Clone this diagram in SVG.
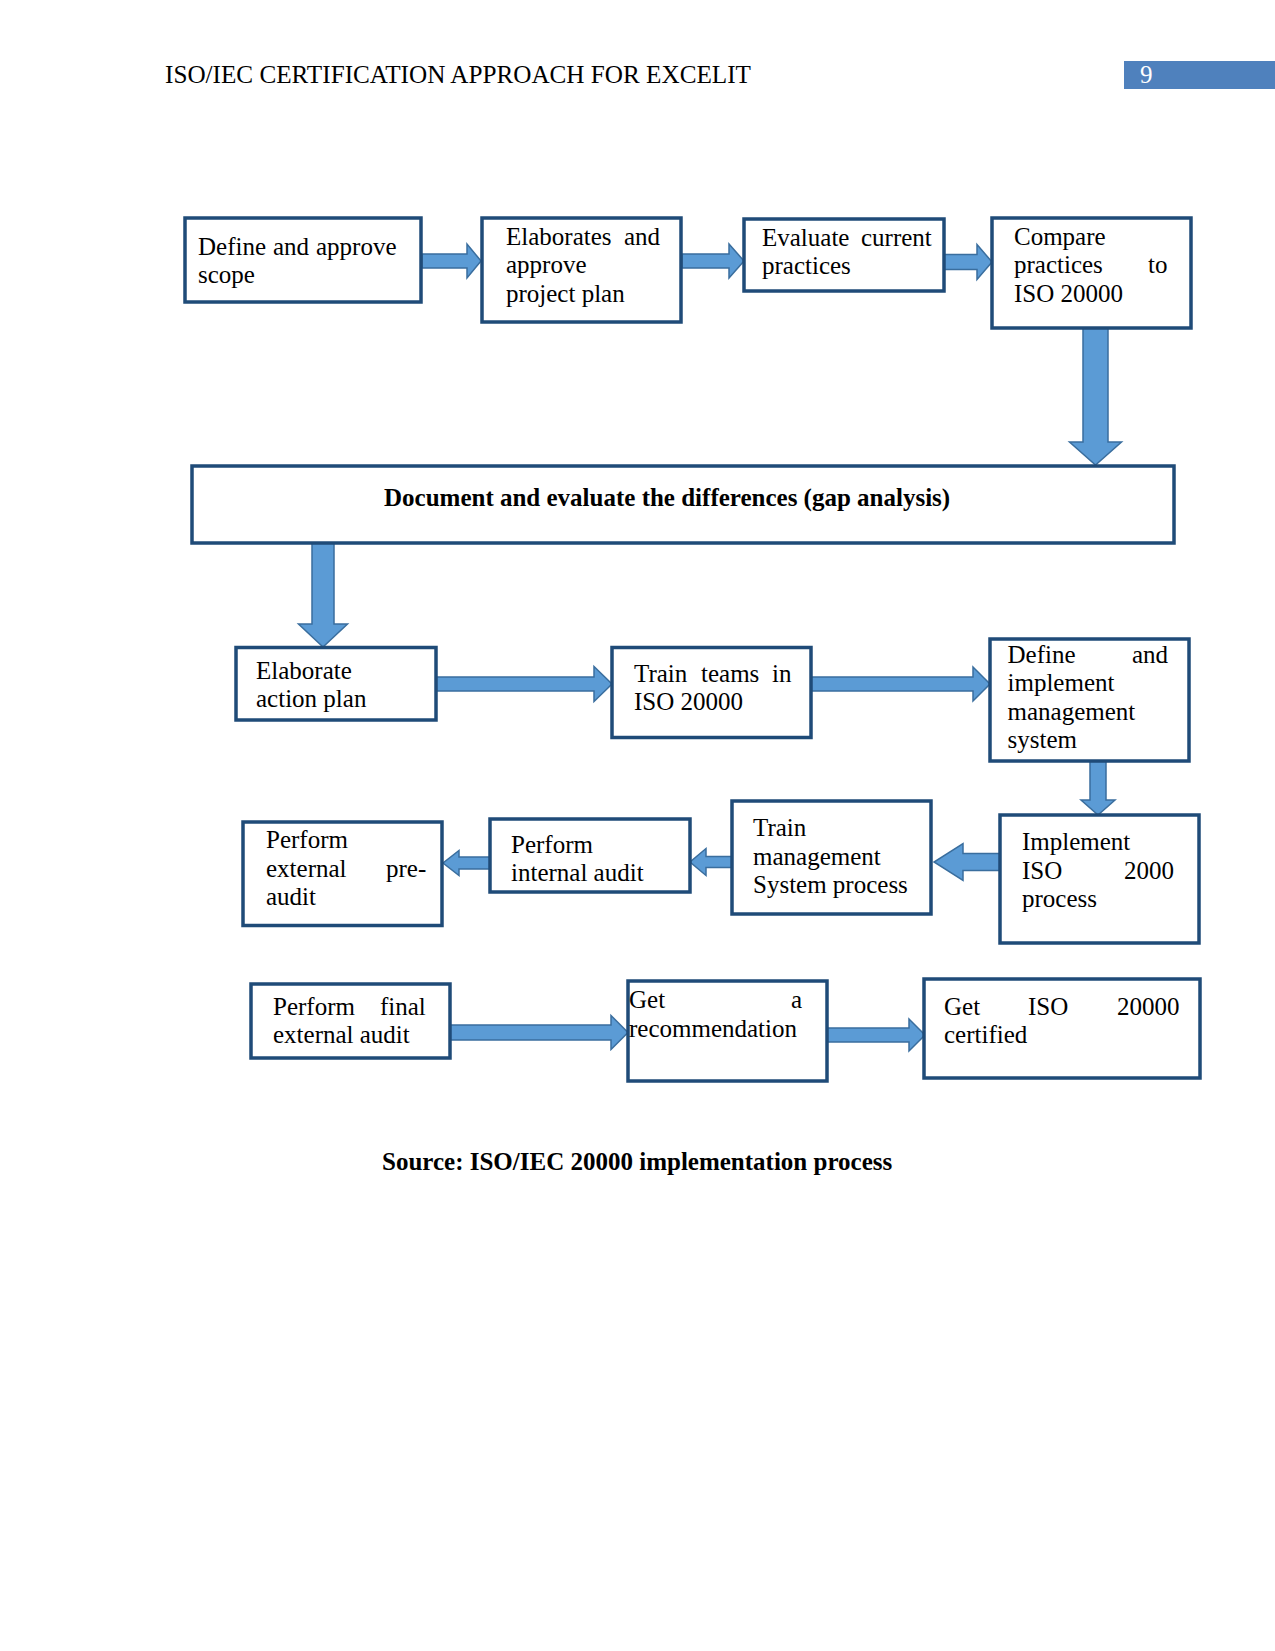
<svg xmlns="http://www.w3.org/2000/svg" width="1275" height="1651" viewBox="0 0 1275 1651">
<style>
text{font-family:"Liberation Serif","Times New Roman",serif;font-size:25px;fill:#000}
.b{font-weight:bold}
.box{fill:#fff;stroke:#1F4B78;stroke-width:3.5}
.arr{fill:#5B9BD5;stroke:#3A6E9E;stroke-width:1.5;stroke-linejoin:miter}
</style>
<rect width="1275" height="1651" fill="#fff"/>
<g id="header">
<text x="165" y="83" textLength="586" lengthAdjust="spacingAndGlyphs">ISO/IEC CERTIFICATION APPROACH FOR EXCELIT</text>
<rect x="1124" y="61" width="151" height="28" fill="#4F81BD"/>
<text x="1140" y="83" style="fill:#fff">9</text>
</g>
<g id="connectors">
<polygon class="arr" points="422,254 467,254 467,244 481,261 467,278 467,268 422,268"/>
<polygon class="arr" points="682,254 729,254 729,244 744,261 729,278 729,268 682,268"/>
<polygon class="arr" points="944,254.5 977,254.5 977,244.5 992,262 977,279.5 977,269.5 944,269.5"/>
<polygon class="arr" points="1083,328 1108,328 1108,442 1121.5,442 1095.5,465 1069.5,442 1083,442"/>
<polygon class="arr" points="312,543 334,543 334,624 347.5,624 323,647 298.5,624 312,624"/>
<polygon class="arr" points="436,677 594,677 594,666.5 612,684 594,701.5 594,691 436,691"/>
<polygon class="arr" points="811,677 973,677 973,667 990,684 973,701 973,691 811,691"/>
<polygon class="arr" points="1090,761 1106,761 1106,800 1115,800 1098,815 1081,800 1090,800"/>
<polygon class="arr" points="1000,853.5 963,853.5 963,843.5 934,862 963,880.5 963,870.5 1000,870.5"/>
<polygon class="arr" points="732,856.5 706,856.5 706,848.5 690,862 706,875.5 706,867.5 732,867.5"/>
<polygon class="arr" points="490,857 459,857 459,850.5 443,863 459,875.5 459,869 490,869"/>
<polygon class="arr" points="450,1025 611,1025 611,1015.5 628,1032.5 611,1049.5 611,1040 450,1040"/>
<polygon class="arr" points="827,1028 909,1028 909,1019 925,1035 909,1051 909,1042 827,1042"/>
</g>
<g id="n1">
<rect class="box" x="185" y="218" width="236" height="84"/>
<text y="255"><tspan x="198">Define</tspan><tspan x="273">and</tspan><tspan x="316">approve</tspan></text>
<text x="198" y="283">scope</text>
</g>
<g id="n2">
<rect class="box" x="482" y="218" width="199" height="104"/>
<text y="245"><tspan x="506">Elaborates</tspan><tspan x="624">and</tspan></text>
<text x="506" y="273">approve</text>
<text x="506" y="302">project plan</text>
</g>
<g id="n3">
<rect class="box" x="744" y="219" width="200" height="72"/>
<text y="246"><tspan x="762">Evaluate</tspan><tspan x="861">current</tspan></text>
<text x="762" y="274">practices</text>
</g>
<g id="n4">
<rect class="box" x="992" y="218" width="199" height="110"/>
<text x="1014" y="245">Compare</text>
<text y="273"><tspan x="1014">practices</tspan><tspan x="1148">to</tspan></text>
<text x="1014" y="302">ISO 20000</text>
</g>
<g id="n5">
<rect class="box" x="192" y="466" width="982" height="77"/>
<text class="b" x="384" y="506">Document and evaluate the differences (gap analysis)</text>
</g>
<g id="n6">
<rect class="box" x="236" y="647.5" width="200" height="72.5"/>
<text x="256" y="679">Elaborate</text>
<text x="256" y="707">action plan</text>
</g>
<g id="n7">
<rect class="box" x="612" y="647.5" width="199" height="90"/>
<text y="682"><tspan x="634">Train</tspan><tspan x="701">teams</tspan><tspan x="772">in</tspan></text>
<text x="634" y="710">ISO 20000</text>
</g>
<g id="n8">
<rect class="box" x="990" y="639" width="199" height="122"/>
<text y="662.5"><tspan x="1007.5">Define</tspan><tspan x="1132">and</tspan></text>
<text x="1007.5" y="691">implement</text>
<text x="1007.5" y="719.5">management</text>
<text x="1007.5" y="748">system</text>
</g>
<g id="n9">
<rect class="box" x="1000" y="815" width="199" height="128"/>
<text x="1022" y="850">Implement</text>
<text y="879"><tspan x="1022">ISO</tspan><tspan x="1124">2000</tspan></text>
<text x="1022" y="907">process</text>
</g>
<g id="n10">
<rect class="box" x="732" y="801" width="199" height="113"/>
<text x="753" y="836">Train</text>
<text x="753" y="864.5">management</text>
<text x="753" y="893">System process</text>
</g>
<g id="n11">
<rect class="box" x="490" y="819" width="200" height="73"/>
<text x="511" y="853">Perform</text>
<text x="511" y="881">internal audit</text>
</g>
<g id="n12">
<rect class="box" x="243" y="822" width="199" height="103.5"/>
<text x="266" y="848">Perform</text>
<text y="877"><tspan x="266">external</tspan><tspan x="386">pre-</tspan></text>
<text x="266" y="905">audit</text>
</g>
<g id="n13">
<rect class="box" x="251" y="984" width="199" height="74"/>
<text y="1015"><tspan x="273">Perform</tspan><tspan x="380">final</tspan></text>
<text x="273" y="1043">external audit</text>
</g>
<g id="n14">
<rect class="box" x="628" y="981" width="199" height="100"/>
<text y="1008"><tspan x="629">Get</tspan><tspan x="791">a</tspan></text>
<text x="629" y="1036.5">recommendation</text>
</g>
<g id="n15">
<rect class="box" x="924" y="979" width="276" height="99"/>
<text y="1015"><tspan x="944">Get</tspan><tspan x="1028">ISO</tspan><tspan x="1117">20000</tspan></text>
<text x="944" y="1043">certified</text>
</g>
<g id="caption">
<text class="b" x="382" y="1170">Source: ISO/IEC 20000 implementation process</text>
</g>
</svg>
